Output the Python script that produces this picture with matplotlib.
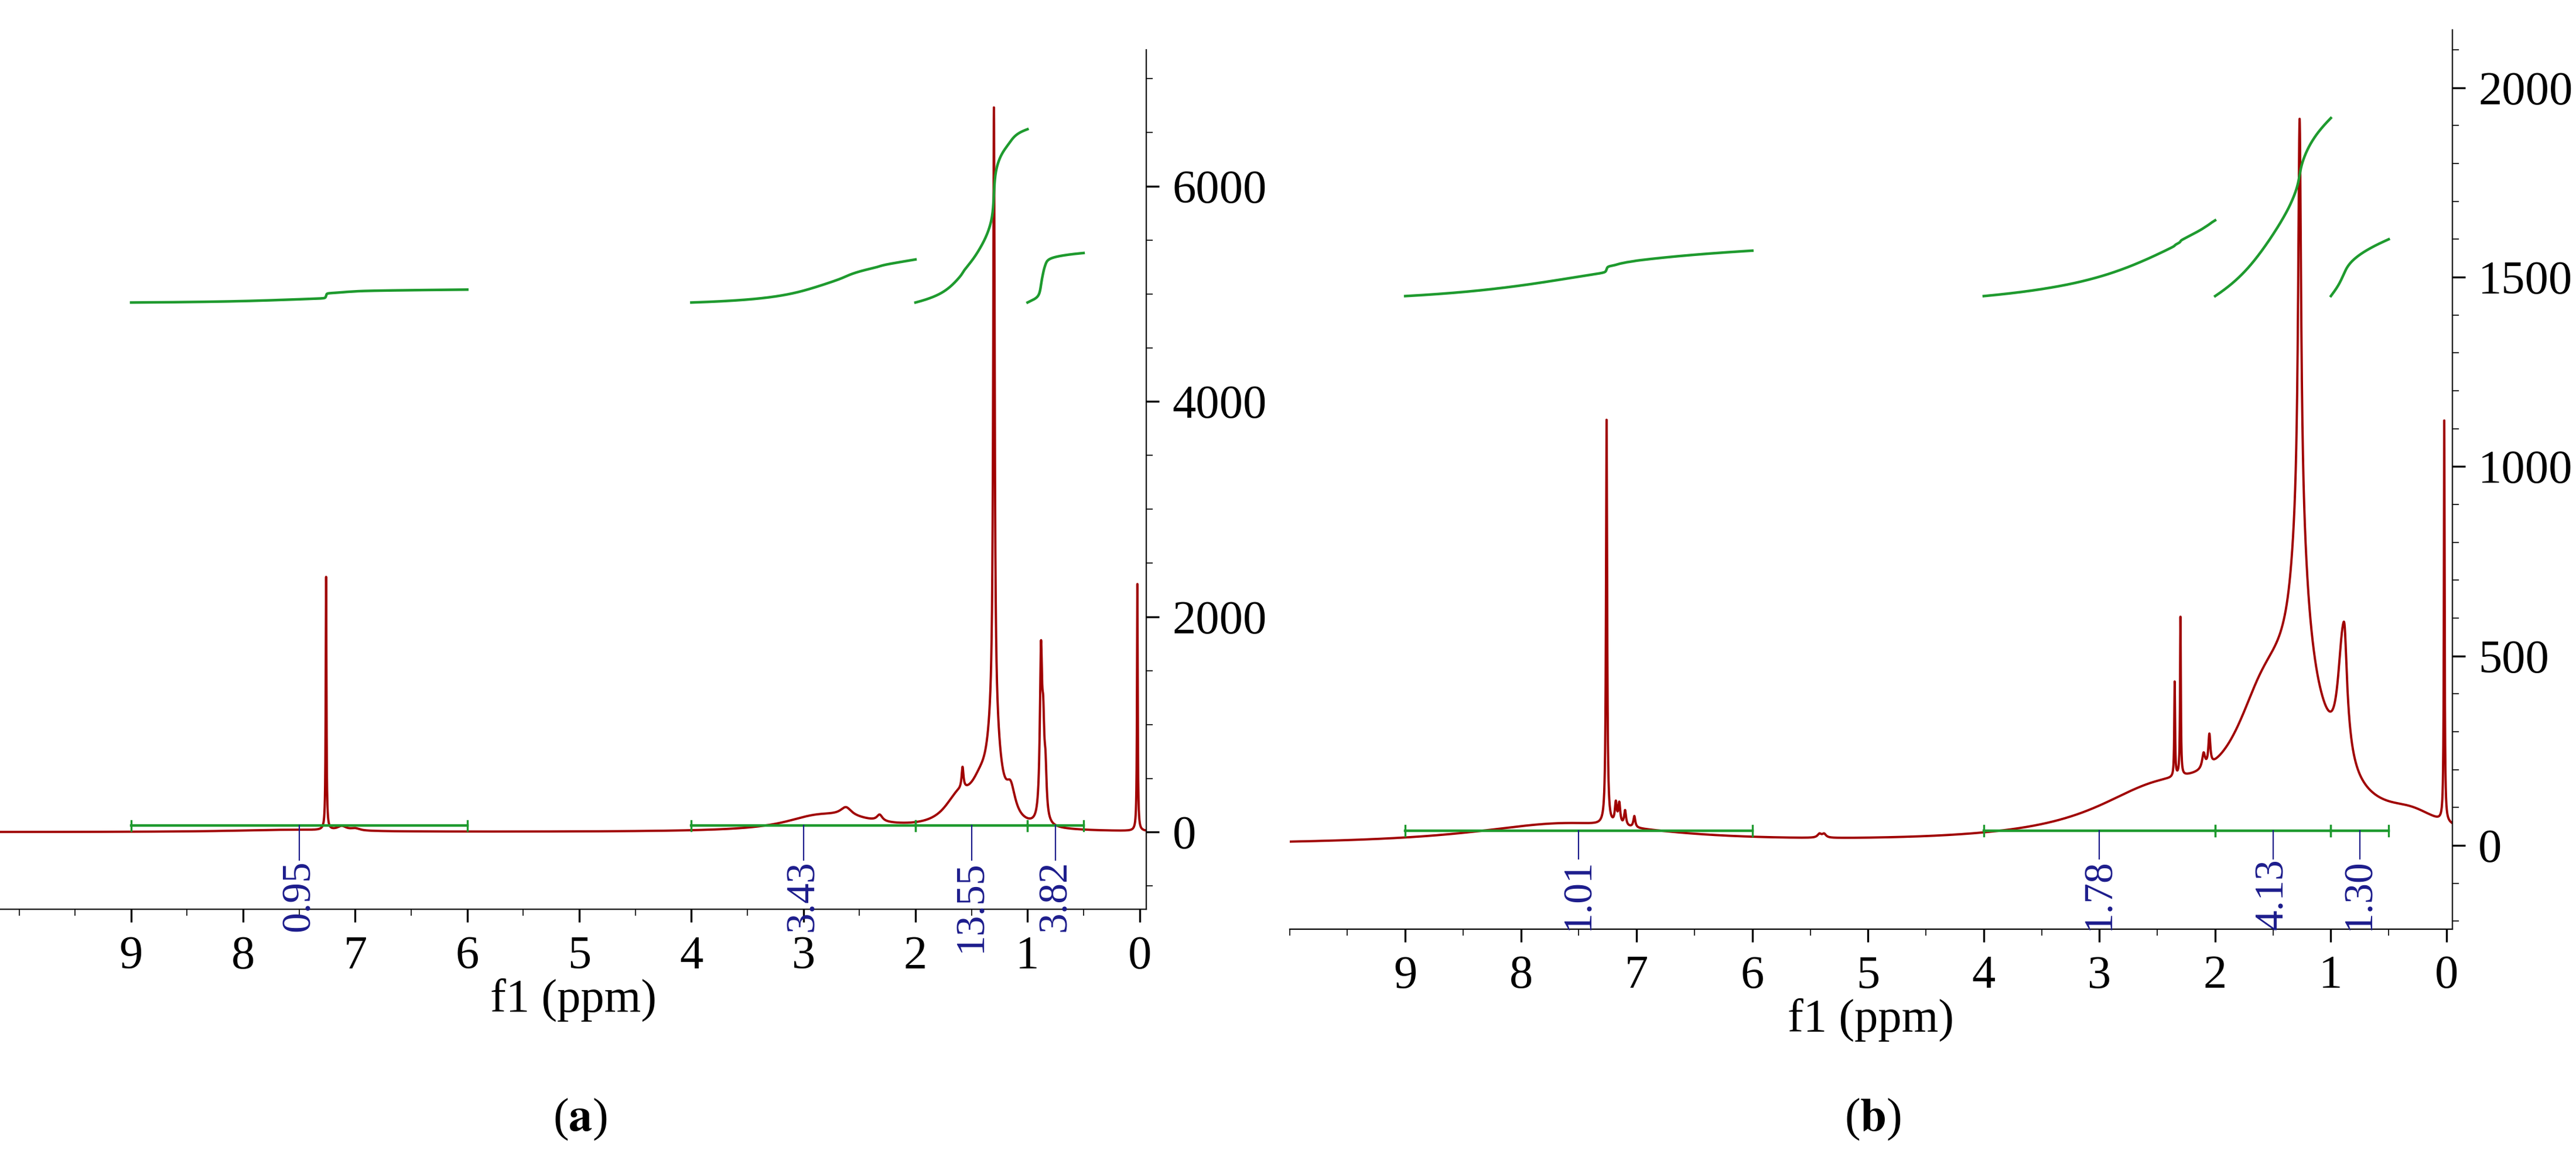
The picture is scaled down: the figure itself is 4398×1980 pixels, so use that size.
import numpy as np
import matplotlib
matplotlib.use("Agg")
import matplotlib.pyplot as plt
from matplotlib.ticker import MultipleLocator

plt.rcParams["font.family"] = ["Liberation Serif", "DejaVu Serif"]
plt.rcParams["mathtext.fontset"] = "stix"

RED = "#a00000"
GREEN = "#1e9a2e"
NAVY = "#1c1c8c"

# ---------- peak tables (ppm, height, half-width) ---------------------------
# panel (a)
a_pos = [7.26, 7.12, 7.0, 2.9, 2.62, 2.32, 2.6, 1.62, 1.58, 1.42, 1.30, 1.30, 1.15, 0.88, 0.86, 0.84, 0.02, 7.6]
a_hgt = [2350, 40, 20, 100, 80, 60, 80, 250, 200, 300, 5600, 900, 250, 1500, 700, 400, 2300, 20]
a_wid = [0.004, 0.05, 0.05, 0.35, 0.06, 0.03, 0.4, 0.15, 0.01, 0.12, 0.008, 0.06, 0.05, 0.012, 0.012, 0.012, 0.004, 0.6]

# panel (b)
b_pos = [7.26, 7.18, 7.15, 7.1, 7.02, 7.6, 5.42, 5.38, 2.5, 2.35, 2.30, 2.1, 2.05, 1.6, 1.27, 1.27, 1.3, 0.9, 0.88, 0.02, 0.3]
b_hgt = [1070, 55, 55, 40, 30, 55, 10, 10, 120, 250, 420, 40, 80, 200, 1050, 420, 320, 300, 110, 1060, 40]
b_wid = [0.006, 0.01, 0.01, 0.01, 0.01, 1.0, 0.02, 0.02, 0.7, 0.004, 0.004, 0.015, 0.01, 0.3, 0.015, 0.08, 0.35, 0.05, 0.02, 0.004, 0.3]

# integrals: (start ppm, end ppm, curve start, curve end, label)
a_int_from = [9.0, 4.0, 2.0, 1.0]
a_int_to = [6.0, 2.0, 1.0, 0.5]
a_curve_lo = [4920, 4920, 4920, 4920]
a_curve_hi = [5040, 5320, 6530, 5380]
a_labels = ["0.95", "3.43", "13.55", "3.82"]
a_label_x = [7.5, 3.0, 1.5, 0.75]

b_int_from = [9.0, 4.0, 2.0, 1.0]
b_int_to = [6.0, 2.0, 1.0, 0.5]
b_curve_lo = [1450, 1450, 1450, 1450]
b_curve_hi = [1570, 1650, 1920, 1600]
b_labels = ["1.01", "1.78", "4.13", "1.30"]
b_label_x = [7.5, 3.0, 1.5, 0.75]


def spectrum(x, pos, hgt, wid):
    y = np.zeros_like(x)
    for p, h, w in zip(pos, hgt, wid):
        y += h * w ** 2 / ((x - p) ** 2 + w ** 2)
    return y


def draw(ax, pos, hgt, wid, i_from, i_to, lo, hi, labels, lab_x,
         xlim, ylim, bar_y, lab_y, minor, ticks):
    x = np.linspace(xlim[0], xlim[1], 20000)
    y = spectrum(x, pos, hgt, wid)
    ax.plot(x, y, color=RED, lw=1.4)

    span = ylim[1] - ylim[0]
    for f, t, l, h in zip(i_from, i_to, lo, hi):
        m = (x <= f) & (x >= t)
        seg = np.cumsum(y[m])
        ax.plot(x[m], l + (h - l) * seg / seg[-1], color=GREEN, lw=1.6)
        ax.plot([f, t], [bar_y, bar_y], color=GREEN, lw=1.6)
        for e in (f, t):
            ax.plot([e, e], [bar_y - 0.006 * span, bar_y + 0.006 * span],
                    color=GREEN, lw=1.2)
    for lx, s in zip(lab_x, labels):
        ax.plot([lx, lx], [bar_y, lab_y], color=NAVY, lw=0.8)
        ax.text(lx, lab_y, s, rotation=90, ha="center", va="top",
                color=NAVY, fontsize=25, clip_on=False)

    ax.set_xlim(*xlim)
    ax.set_ylim(*ylim)
    for s in ("left", "top"):
        ax.spines[s].set_visible(False)
    ax.yaxis.tick_right()
    ax.set_yticks(ticks)
    ax.yaxis.set_minor_locator(MultipleLocator(minor))
    ax.xaxis.set_minor_locator(MultipleLocator(0.5))
    ax.set_xticks(range(0, 10))
    ax.tick_params(labelsize=29, length=8, width=1.2, pad=8)
    ax.tick_params(which="minor", length=4)
    ax.set_xlabel("f1 (ppm)", fontsize=29, labelpad=0)


fig = plt.figure(figsize=(21.99, 9.9), dpi=200)
ax_a = fig.add_axes([0.0, 0.216, 0.445, 0.741])
ax_b = fig.add_axes([0.5006, 0.199, 0.4514, 0.775])

draw(ax_a, a_pos, a_hgt, a_wid, a_int_from, a_int_to, a_curve_lo, a_curve_hi,
     a_labels, a_label_x, (10.17, -0.06), (-718, 7267), 60, -260,
     500, [0, 2000, 4000, 6000])
draw(ax_b, b_pos, b_hgt, b_wid, b_int_from, b_int_to, b_curve_lo, b_curve_hi,
     b_labels, b_label_x, (10.0, -0.05), (-221, 2152), 39, -35,
     100, [0, 500, 1000, 1500, 2000])

fig.text(0.2252, 0.035, r"($\mathbf{a}$)", ha="center", va="center", fontsize=29)
fig.text(0.727, 0.035, r"($\mathbf{b}$)", ha="center", va="center", fontsize=29)

fig.savefig("out.png", dpi=200)
